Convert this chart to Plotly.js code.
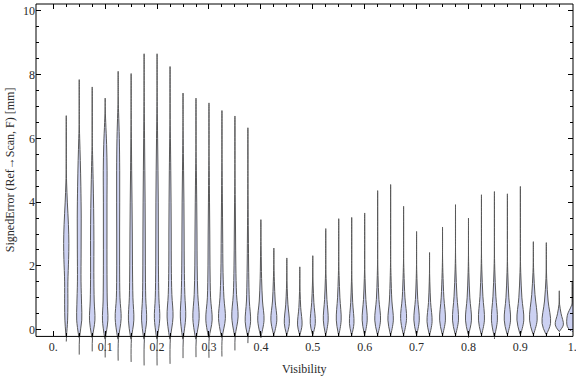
<!DOCTYPE html>
<html><head><meta charset="utf-8">
<script src="https://cdn.plot.ly/plotly-3.0.1.min.js"></script>
<style>html,body{margin:0;padding:0;background:#fff;}</style>
</head><body>
<div id="chart" style="width:576px;height:377px;"></div>
<script>
// ---- data ----
const visibility = [0.025,0.05,0.075,0.1,0.125,0.15,0.175,0.2,0.225,0.25,
  0.275,0.3,0.325,0.35,0.375,0.4,0.425,0.45,0.475,0.5,
  0.525,0.55,0.575,0.6,0.625,0.65,0.675,0.7,0.725,0.75,
  0.775,0.8,0.825,0.85,0.875,0.9,0.925,0.95,0.975,1.0];
const errMax = [6.71,7.84,7.61,7.26,8.10,8.03,8.65,8.65,8.25,7.42,
  7.26,7.11,6.87,6.70,6.33,3.45,2.56,2.25,1.97,2.32,
  3.17,3.48,3.52,3.66,4.36,4.55,3.87,3.08,2.42,3.22,
  3.92,3.50,4.23,4.33,4.26,4.49,2.76,2.73,1.22,1.50];
const errMin = [-0.37,-0.78,-0.68,-0.87,-0.97,-1.01,-1.12,-1.12,-1.07,-0.89,
  -0.86,-0.88,-0.84,-0.65,-0.42,-0.26,-0.2,-0.2,-0.2,-0.2,
  -0.2,-0.2,-0.2,-0.2,-0.2,-0.2,-0.2,-0.2,-0.2,-0.2,
  -0.2,-0.25,-0.2,-0.29,-0.2,-0.2,-0.2,-0.2,-0.08,-0.06];
// density profile of each violin: [error value, relative density]
const densityProfile = [
  [[-0.2,0.3],[0.3,1.5],[0.8,1.8],[1.5,1.8],[2.2,2.6],[2.7,2.9],[3.3,2.4],[4.0,1.2],[4.6,0.4],[5.2,0]],
  [[-0.25,0.3],[0.3,2.8],[0.8,2.6],[1.5,2.0],[2.5,2.1],[3.5,2.2],[4.5,1.8],[5.3,1.2],[6.0,0.5],[6.6,0]],
  [[-0.25,0.3],[0.3,3.0],[0.9,2.2],[1.8,1.8],[2.8,1.9],[3.8,1.6],[4.7,1.0],[5.5,0.4],[6.0,0]],
  [[-0.3,0.3],[0.3,3.0],[0.9,2.3],[2,2.0],[3,2.0],[4,2.0],[5,2.1],[5.8,1.6],[6.5,0.6],[7,0]],
  [[-0.3,0.3],[0.35,3.3],[1,2.0],[2,1.6],[3,1.6],[4,1.7],[5,1.7],[6,1.3],[6.8,0.5],[7.3,0]],
  [[-0.3,0.3],[0.3,3.0],[1,2.0],[2,1.5],[3,1.3],[4,1.0],[5,0.6],[6,0.3],[6.8,0]],
  [[-0.3,0.3],[0.3,2.8],[1,1.8],[2,1.4],[3,1.3],[4,1.1],[5,0.8],[6,0.5],[7,0.2],[7.6,0]],
  [[-0.3,0.3],[0.35,3.0],[1,2.0],[2,1.5],[3,1.4],[4,1.3],[5,1.0],[6,0.6],[7,0.2],[7.6,0]],
  [[-0.3,0.3],[0.4,3.3],[1.1,2.0],[2,1.4],[3,1.3],[4,1.1],[5,0.8],[6,0.4],[6.8,0]],
  [[-0.3,0.3],[0.4,3.0],[1.1,2.0],[2,1.4],[3,1.2],[4,1.0],[5,0.6],[6,0.2],[6.5,0]],
  [[-0.3,0.3],[0.35,3.5],[1.1,2.0],[2,1.3],[3,1.1],[4,0.8],[5,0.4],[5.8,0]],
  [[-0.25,0.3],[0.3,3.5],[1.0,1.8],[2,1.1],[3,0.9],[4,0.6],[5,0.3],[5.6,0]],
  [[-0.25,0.3],[0.35,3.8],[1.0,2.2],[1.8,1.2],[3,0.8],[4,0.5],[5,0.2],[5.5,0]],
  [[-0.2,0.3],[0.4,3.5],[1.1,1.8],[2,1.0],[3,0.7],[4,0.4],[5,0]],
  [[-0.2,0.3],[0.25,3.0],[0.9,1.6],[1.8,0.9],[3,0.5],[4,0.2],[4.8,0]],
  [[-0.2,0.3],[0.3,3.5],[0.9,1.8],[1.6,0.8],[2.5,0.3],[3,0]],
  [[-0.15,0.3],[0.3,3.3],[0.9,1.5],[1.5,0.6],[2.2,0]],
  [[-0.15,0.3],[0.2,2.8],[0.8,1.2],[1.3,0.4],[1.8,0]],
  [[-0.15,0.3],[0.15,2.5],[0.7,1.0],[1.2,0.3],[1.6,0]],
  [[-0.15,0.3],[0.2,2.8],[0.85,1.2],[1.4,0.4],[1.9,0]],
  [[-0.15,0.3],[0.3,2.7],[0.95,1.3],[1.6,0.4],[2.2,0]],
  [[-0.15,0.3],[0.3,2.7],[1.0,1.3],[1.7,0.4],[2.3,0]],
  [[-0.15,0.3],[0.2,2.5],[0.85,1.1],[1.5,0.3],[2.0,0]],
  [[-0.15,0.3],[0.3,2.8],[0.95,1.3],[1.6,0.4],[2.2,0]],
  [[-0.15,0.3],[0.3,3.2],[0.95,1.4],[1.7,0.4],[2.4,0]],
  [[-0.15,0.3],[0.3,3.0],[0.9,1.4],[1.7,0.4],[2.4,0]],
  [[-0.15,0.3],[0.35,3.3],[1.0,1.5],[1.8,0.4],[2.4,0]],
  [[-0.15,0.3],[0.3,3.0],[0.95,1.3],[1.6,0.4],[2.2,0]],
  [[-0.15,0.3],[0.25,2.8],[0.85,1.2],[1.5,0.3],[2.0,0]],
  [[-0.15,0.3],[0.3,3.2],[1.0,1.5],[1.8,0.4],[2.4,0]],
  [[-0.15,0.3],[0.3,3.3],[1.05,1.6],[1.9,0.4],[2.6,0]],
  [[-0.15,0.3],[0.3,3.3],[1.0,1.5],[1.8,0.4],[2.5,0]],
  [[-0.15,0.3],[0.3,3.3],[1.05,1.6],[1.9,0.4],[2.6,0]],
  [[-0.2,0.3],[0.3,3.3],[1.05,1.6],[1.9,0.4],[2.6,0]],
  [[-0.15,0.3],[0.3,3.5],[1.0,1.6],[1.8,0.4],[2.5,0]],
  [[-0.15,0.3],[0.3,3.8],[1.0,1.7],[1.8,0.4],[2.5,0]],
  [[-0.15,0.3],[0.3,4.2],[1.1,1.8],[1.8,0.4],[2.4,0]],
  [[-0.15,0.3],[0.2,4.7],[0.9,2.0],[1.6,0.4],[2.2,0]],
  [[-0.05,0.3],[0.15,4.5],[0.5,2.0],[0.8,0.3],[1.0,0]],
  [[-0.04,1.5],[0.1,5.5],[0.45,5.5],[0.75,1.0],[0.9,0]]
];
const xTickVals = [0,0.1,0.2,0.3,0.4,0.5,0.6,0.7,0.8,0.9,1.0];
const xTickText = ['0.','0.1','0.2','0.3','0.4','0.5','0.6','0.7','0.8','0.9','1.'];
const yTickVals = [0,2,4,6,8,10];
const yTickText = ['0','2','4','6','8','10'];
const xTitle = 'Visibility';
const yTitle = 'SignedError (Ref\u2192Scan, F) [mm]';

// ---- styling / geometry ----
const W = 576, H = 377;
const M = {l:36, r:3, t:4, b:9};
const xRange = [-0.0333, 1.0014];
const yRange = [-1.2, 10.21];
const frameBottom = -0.21;
const densityToX = 0.9/519;  // relative density unit -> x-axis width
const fillColor = 'rgb(204,209,242)';
const edgeColor = 'rgb(88,88,88)';
const font = 'Liberation Serif, Times New Roman, serif';
const textColor = '#2a2a2a';

const traces = visibility.map((v,i)=>{
  const prof = densityProfile[i];
  const xs = [v], ys = [errMin[i]];
  prof.forEach(([y,d])=>{ xs.push(v + d*densityToX); ys.push(y); });
  xs.push(v); ys.push(errMax[i]);
  for (let k = prof.length-1; k >= 0; k--) { xs.push(v - prof[k][1]*densityToX); ys.push(prof[k][0]); }
  return {type:'scatter', x:xs, y:ys, mode:'lines', fill:'toself', fillcolor:fillColor,
    line:{color:edgeColor, width:1, shape:'spline', smoothing:1},
    hoverinfo:'skip', showlegend:false};
});
// invisible helper trace so the mirrored top axis is drawn
traces.push({type:'scatter', x:[0.5], y:[5], xaxis:'x2', yaxis:'y', mode:'markers',
  marker:{opacity:0}, hoverinfo:'skip', showlegend:false});

const minorX = [];
for (let k = 0; k <= 40; k++) { if (k % 4 !== 0) minorX.push(k*0.025); }
const minorY = [];
for (let k = 0; k <= 20; k++) { if (k % 4 !== 0) minorY.push(k*0.5); }

const frameFrac = (frameBottom - yRange[0])/(yRange[1]-yRange[0]);

const tickFont = {family:font, size:12, color:textColor};
const layout = {
  width:W, height:H, margin:M, paper_bgcolor:'#fff', plot_bgcolor:'#fff',
  showlegend:false,
  xaxis:{range:xRange, anchor:'free', position:frameFrac, showgrid:false, zeroline:false,
    showline:false, ticks:'inside', ticklen:5, tickwidth:1, tickcolor:'#000',
    tickmode:'array', tickvals:xTickVals, ticktext:xTickText, tickfont:tickFont,
    ticklabeloverflow:'allow', ticklabelstandoff:2,
    minor:{tickmode:'array', tickvals:minorX, ticks:'inside', ticklen:3, tickwidth:1, tickcolor:'#000', showgrid:false}},
  xaxis2:{range:xRange, overlaying:'x', side:'top', anchor:'y', showgrid:false, zeroline:false,
    showline:false, showticklabels:false, ticks:'inside', ticklen:5, tickwidth:1, tickcolor:'#000',
    tickmode:'array', tickvals:xTickVals,
    minor:{tickmode:'array', tickvals:minorX, ticks:'inside', ticklen:3, tickwidth:1, tickcolor:'#000', showgrid:false}},
  yaxis:{range:yRange, showgrid:false, zeroline:false, showline:false, mirror:'ticks',
    ticks:'inside', ticklen:5, tickwidth:1, tickcolor:'#000',
    tickmode:'array', tickvals:yTickVals, ticktext:yTickText, tickfont:tickFont,
    minor:{tickmode:'array', tickvals:minorY, ticks:'inside', ticklen:3, tickwidth:1, tickcolor:'#000', showgrid:false}},
  shapes:[{type:'rect', xref:'paper', yref:'paper', x0:0, x1:1, y0:frameFrac, y1:1,
    line:{color:'#000', width:1}, fillcolor:'rgba(0,0,0,0)', layer:'above'}],
  annotations:[
    {text:xTitle, xref:'paper', yref:'paper', x:0.5, y:0, xanchor:'center', yanchor:'middle',
     yshift:-1, showarrow:false, font:{family:font, size:12, color:textColor}},
    {text:yTitle, xref:'paper', yref:'paper', x:0, y:(frameFrac+1)/2, xanchor:'center', yanchor:'middle',
     xshift:-26, textangle:-90, showarrow:false, font:{family:font, size:12, color:textColor}}
  ]
};
Plotly.newPlot('chart', traces, layout, {staticPlot:true, displayModeBar:false});
</script>
</body></html>
